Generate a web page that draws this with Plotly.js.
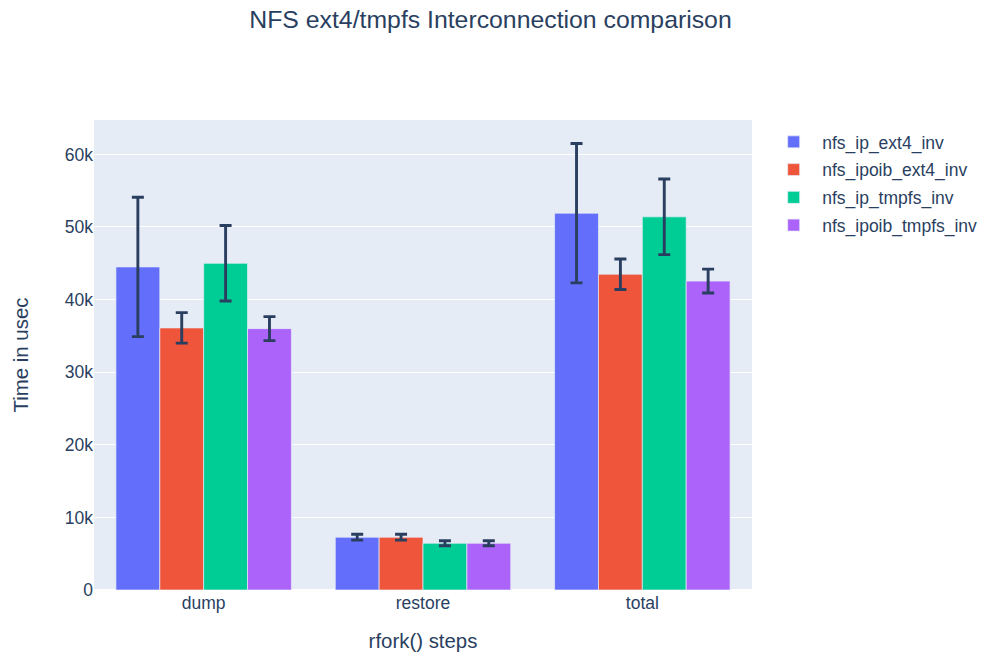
<!DOCTYPE html>
<html>
<head>
<meta charset="utf-8">
<script src="https://cdn.plot.ly/plotly-3.0.1.min.js"></script>
<style>html,body{margin:0;padding:0;background:#fff;}#chart{width:981px;height:657px;}</style>
</head>
<body>
<div id="chart"></div>
<script>
const categories = ["dump", "restore", "total"];
const seriesNames = ["nfs_ip_ext4_inv", "nfs_ipoib_ext4_inv", "nfs_ip_tmpfs_inv", "nfs_ipoib_tmpfs_inv"];
const nfs_ip_ext4_inv = [44500, 7270, 51900];
const nfs_ip_ext4_inv_err = [9600, 400, 9600];
const nfs_ipoib_ext4_inv = [36100, 7270, 43500];
const nfs_ipoib_ext4_inv_err = [2100, 400, 2100];
const nfs_ip_tmpfs_inv = [45000, 6440, 51400];
const nfs_ip_tmpfs_inv_err = [5200, 350, 5200];
const nfs_ipoib_tmpfs_inv = [36000, 6440, 42550];
const nfs_ipoib_tmpfs_inv_err = [1650, 350, 1650];
const colors = ["#636efa", "#EF553B", "#00cc96", "#ab63fa"];

const values = [nfs_ip_ext4_inv, nfs_ipoib_ext4_inv, nfs_ip_tmpfs_inv, nfs_ipoib_tmpfs_inv];
const errors = [nfs_ip_ext4_inv_err, nfs_ipoib_ext4_inv_err, nfs_ip_tmpfs_inv_err, nfs_ipoib_tmpfs_inv_err];

const font = "Liberation Sans, Arial, sans-serif";
const traces = seriesNames.map((name, i) => ({
  type: "bar",
  name: name,
  legendgroup: name,
  x: categories,
  y: values[i],
  error_y: {type: "data", array: errors[i], visible: true, color: "#2a3f5f", thickness: 2.9, width: 6},
  marker: {color: colors[i], line: {color: "#E5ECF6", width: 0.7}}
}));

const layout = {
  width: 981, height: 657,
  margin: {l: 94, r: 229, t: 120, b: 67},
  paper_bgcolor: "#ffffff",
  plot_bgcolor: "#E5ECF6",
  font: {family: font, color: "#2a3f5f", size: 17.5},
  title: {text: "NFS ext4/tmpfs Interconnection comparison", font: {size: 24.8, family: font, color: "#2a3f5f"}, x: 0.5, xanchor: "center", y: 0.97, yanchor: "middle"},
  barmode: "group",
  bargap: 0.2,
  bargroupgap: 0,
  xaxis: {title: {text: "rfork() steps", font: {size: 20.4}, standoff: 22}, showgrid: false, tickfont: {size: 17.5}, automargin: false},
  yaxis: {title: {text: "Time in usec", font: {size: 20.4}, standoff: 30}, gridcolor: "white", gridwidth: 1.4, zerolinecolor: "white", zerolinewidth: 2, tickfont: {size: 17.5}, automargin: false},
  legend: {font: {size: 17.5}, xref: "container", x: 0.78, xanchor: "left", yref: "paper", y: 0.9915, yanchor: "top", itemwidth: 47, tracegroupgap: 2},
  showlegend: true
};

Plotly.newPlot("chart", traces, layout, {displayModeBar: false});
</script>
</body>
</html>
